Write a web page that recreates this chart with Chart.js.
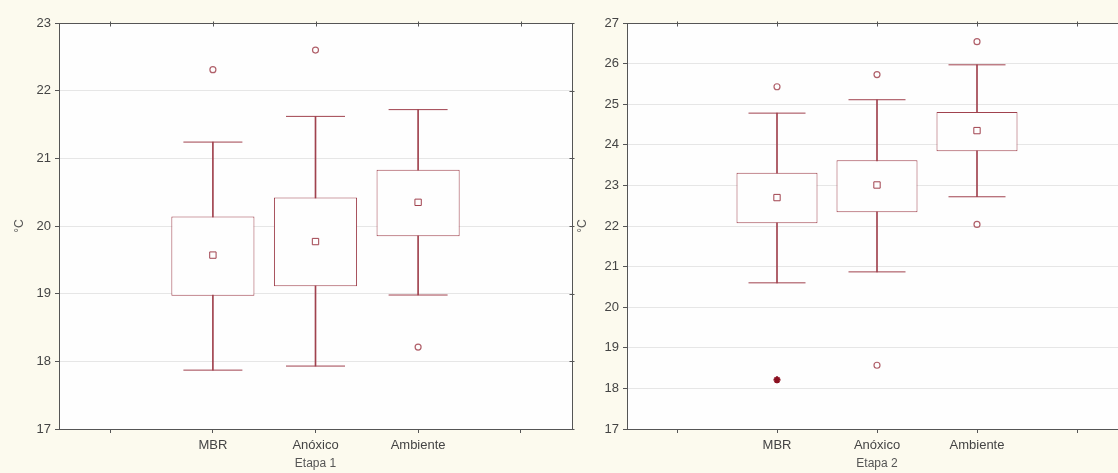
<!DOCTYPE html>
<html>
<head>
<meta charset="utf-8">
<script src="https://cdn.jsdelivr.net/npm/chart.js@4.4.1/dist/chart.umd.min.js"></script>
<style>
    html, body { margin: 0; padding: 0; width: 1118px; height: 473px; overflow: hidden; background: #fcfaee; }
    canvas { position: absolute; top: 0; }
    #etapa1 { left: 0; }
    #etapa2 { left: 555px; }
</style>
</head>
<body>
<canvas id="etapa1" width="590" height="473"></canvas>
<canvas id="etapa2" width="580" height="473"></canvas>
<script>
// categorias del eje X
const categories = ['MBR', 'Anóxico', 'Ambiente'];

// Etapa 1
const e1Q1 = [18.97, 19.11, 19.85];
const e1Q3 = [20.14, 20.42, 20.83];
const e1Mean = [19.57, 19.77, 20.35];
const e1WhiskerLow = [17.87, 17.93, 18.98];
const e1WhiskerHigh = [21.24, 21.62, 21.72];
const e1OutlierHigh = [22.31, 22.60, null];
const e1OutlierLow = [null, null, 18.21];
const e1Extreme = [null, null, null];
const e1Ticks = [17, 23];

// Etapa 2
const e2Q1 = [22.07, 22.34, 23.84];
const e2Q3 = [23.31, 23.62, 24.81];
const e2Mean = [22.70, 23.01, 24.35];
const e2WhiskerLow = [20.60, 20.87, 22.72];
const e2WhiskerHigh = [24.78, 25.11, 25.97];
const e2OutlierHigh = [25.43, 25.73, 26.54];
const e2OutlierLow = [null, 18.57, 22.04];
const e2Extreme = [18.21, null, null];
const e2Ticks = [17, 27];

const RED = '#a0424e';
const PINK = '#b0606a';
const AXIS = '#555555';
const FONT = "'Liberation Sans', Arial, sans-serif";

// posiciones vacías a los lados, como en el original
const pad = arr => [null, ...arr, null];
const pairs = (a, b) => pad(a.map((v, i) => [v, b[i]]));

/*
* Fondo blanco del área de trazado, marco y marcas en los lados opuestos
*/
const framePlugin = {
    id: 'frame',
    beforeDraw(chart) {
        const {ctx, chartArea: a} = chart;
        ctx.save();
        ctx.fillStyle = '#fefefe';
        ctx.fillRect(a.left, a.top, a.right - a.left, a.bottom - a.top);
        ctx.restore();
    },
    afterDraw(chart) {
        const {ctx, chartArea: a, scales} = chart;
        const l = Math.round(a.left) + 0.5, t = Math.round(a.top) + 0.5;
        const r = Math.round(a.right) + 0.5, b = Math.round(a.bottom) + 0.5;
        ctx.save();
        ctx.strokeStyle = AXIS;
        ctx.lineWidth = 1;
        ctx.strokeRect(l, t, r - l, b - t);
        ctx.beginPath();
        scales.x.ticks.forEach((tk, i) => {
            const x = Math.round(scales.x.getPixelForTick(i)) + 0.5;
            ctx.moveTo(x, t - 2);
            ctx.lineTo(x, t + 3);
        });
        scales.y.ticks.forEach((tk, i) => {
            const y = Math.round(scales.y.getPixelForTick(i)) + 0.5;
            ctx.moveTo(r - 3, y);
            ctx.lineTo(r + 2, y);
        });
        ctx.stroke();
        ctx.restore();
    }
};

function boxChart(canvasId, d) {
    // radio 0 en las posiciones vacías para que no se reserve margen extra
    const pts = (data, style, radius, color, width) => ({
        type: 'line',
        data: pad(data),
        showLine: false,
        borderWidth: 0,
        pointStyle: style,
        pointRadius: pad(data.map(() => radius)).map(v => v || 0),
        pointBorderColor: color,
        pointBackgroundColor: 'rgba(0,0,0,0)',
        pointBorderWidth: width,
        order: 0
    });

    new Chart(document.getElementById(canvasId), {
        type: 'bar',
        data: {
            labels: pad(categories).map(c => c || ''),
            datasets: [
                { // cajas
                    data: pairs(d.q1, d.q3),
                    backgroundColor: '#fefefe',
                    borderColor: RED,
                    borderWidth: 1,
                    borderSkipped: false,
                    grouped: false,
                    barPercentage: 0.81,
                    categoryPercentage: 1,
                    order: 1
                },
                { // bigotes
                    data: pairs(d.whLo, d.whHi),
                    backgroundColor: RED,
                    borderWidth: 0,
                    grouped: false,
                    barThickness: 1,
                    order: 2
                },
                pts(d.whLo, 'line', d.cap, RED, 1),
                pts(d.whHi, 'line', d.cap, RED, 1),
                pts(d.mean, 'rect', 4.5, RED, 1),
                pts(d.outHi, 'circle', 3, PINK, 1.2),
                pts(d.outLo, 'circle', 3, PINK, 1.2),
                pts(d.extreme, 'star', 3.5, '#8b1020', 2)
            ]
        },
        options: {
            responsive: false,
            animation: false,
            layout: { padding: { top: 23, right: d.padRight, left: 0, bottom: 0 } },
            plugins: { legend: { display: false }, tooltip: { enabled: false } },
            scales: {
                x: {
                    offset: true,
                    afterFit: s => { s.height = 44; },
                    border: { color: AXIS },
                    grid: { offset: false, drawOnChartArea: false, tickLength: 4, tickColor: AXIS },
                    ticks: { color: '#444', font: { family: FONT, size: 13 }, padding: 5, maxRotation: 0 },
                    title: { display: true, text: d.title, color: '#555', font: { family: FONT, size: 12 }, padding: { top: 0, bottom: 2 } }
                },
                y: {
                    min: d.ticks[0],
                    max: d.ticks[1],
                    afterFit: s => { s.width = d.axisWidth; },
                    border: { color: AXIS },
                    grid: { color: '#e6e6e6', tickLength: 4, tickColor: AXIS },
                    ticks: { stepSize: 1, color: '#444', font: { family: FONT, size: 13 }, padding: 4 },
                    title: { display: true, text: '°C', color: '#555', font: { family: FONT, size: 12 }, padding: { top: d.titlePad, bottom: 0 } }
                }
            }
        },
        plugins: [framePlugin]
    });
}

document.addEventListener('DOMContentLoaded', () => {
    boxChart('etapa1', {
        q1: e1Q1, q3: e1Q3, mean: e1Mean, whLo: e1WhiskerLow, whHi: e1WhiskerHigh,
        outHi: e1OutlierHigh, outLo: e1OutlierLow, extreme: e1Extreme, ticks: e1Ticks,
        title: 'Etapa 1', cap: 29.5, axisWidth: 59, padRight: 18, titlePad: 12
    });
    boxChart('etapa2', {
        q1: e2Q1, q3: e2Q3, mean: e2Mean, whLo: e2WhiskerLow, whHi: e2WhiskerHigh,
        outHi: e2OutlierHigh, outLo: e2OutlierLow, extreme: e2Extreme, ticks: e2Ticks,
        title: 'Etapa 2', cap: 28.5, axisWidth: 72, padRight: 8, titlePad: 20
    });
});
</script>
</body>
</html>
